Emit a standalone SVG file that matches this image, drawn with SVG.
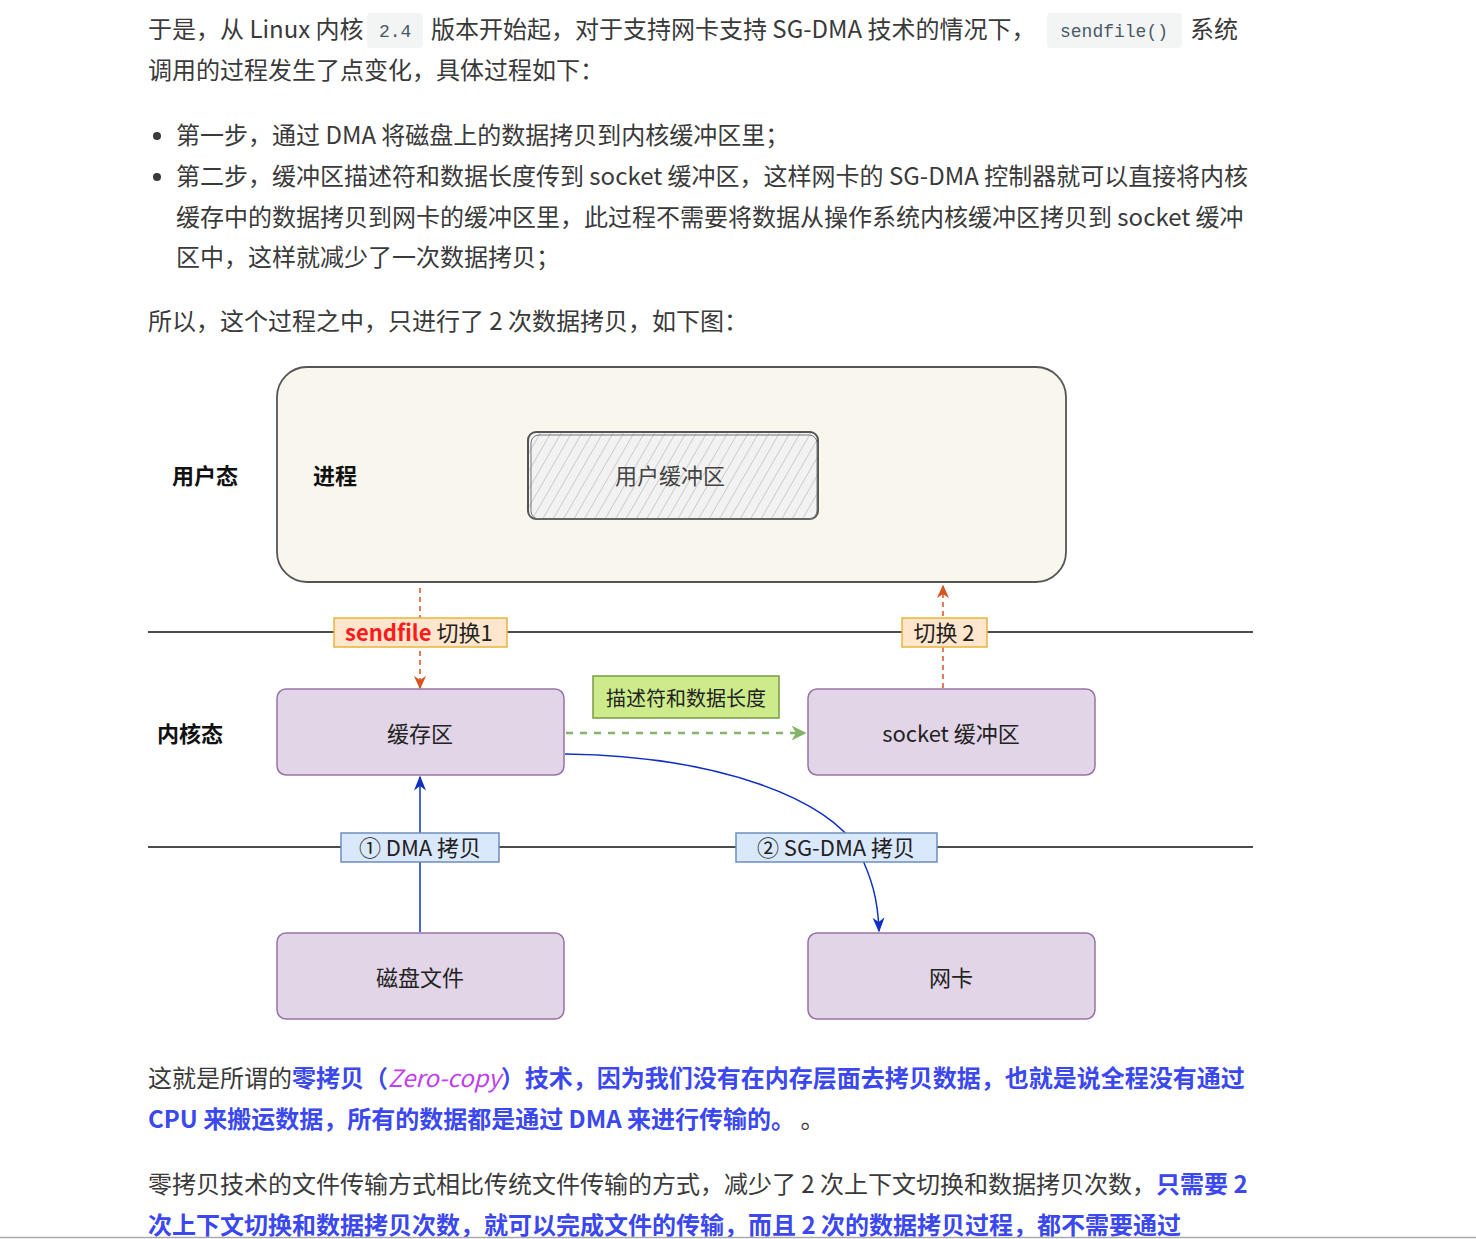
<svg xmlns="http://www.w3.org/2000/svg" width="1476" height="1239" viewBox="0 0 1476 1239">
<style>
.t{font-family:"Noto Sans CJK SC","Noto Sans",sans-serif;font-size:24px;fill:#3a3a3a}
.b{fill:#3b47ef;font-weight:bold}
.code{font-family:"Liberation Mono",monospace;font-size:18px;fill:#4a5866}
.lab{font-family:"Noto Sans CJK SC","Noto Sans",sans-serif;font-size:22px;fill:#222}
.bold{font-weight:bold;fill:#111}
.purple{fill:#e1d5e7;stroke:#9673a6;stroke-width:1.5}
.blue{fill:#dae8fc;stroke:#6c8ebf;stroke-width:1.5}
.orange{fill:#ffe6cc;stroke:#e8b53a;stroke-width:1.5}
.hl{stroke:#111;stroke-width:1.5}
</style>
<defs>
<pattern id="hatch" width="9" height="9" patternUnits="userSpaceOnUse" patternTransform="rotate(30)">
<rect width="9" height="9" fill="#f2f2f2"/>
<line x1="0" y1="0" x2="0" y2="9" stroke="#aaa" stroke-width="1"/>
</pattern>
<marker id="ar" viewBox="0 0 10 10" refX="9" refY="5" markerWidth="9" markerHeight="9" orient="auto"><path d="M0,0.5 L10,5 L0,9.5 L3,5 Z" fill="#d9531e"/></marker>
<marker id="ag" viewBox="0 0 10 10" refX="9" refY="5" markerWidth="6" markerHeight="6" orient="auto"><path d="M0,0 L10,5 L0,10 L3,5 Z" fill="#82b366"/></marker>
<marker id="ab" viewBox="0 0 10 10" refX="9" refY="5" markerWidth="10" markerHeight="10" orient="auto"><path d="M0,1 L10,5 L0,9 L3,5 Z" fill="#0f2fc4"/></marker>
</defs>
<rect width="1476" height="1239" fill="#fff"/>

<!-- top text -->
<g id="intro">
<text class="t" x="148" y="38">于是，从 Linux 内核</text>
<rect x="367" y="13" width="56" height="35" rx="4" fill="#f3f4f4"/>
<text class="code" x="379" y="37">2.4</text>
<text class="t" x="431" y="38">版本开始起，对于支持网卡支持 SG-DMA 技术的情况下，</text>
<rect x="1047" y="13" width="135" height="35" rx="4" fill="#f3f4f4"/>
<text class="code" x="1060" y="37">sendfile()</text>
<text class="t" x="1190" y="38">系统</text>
<text class="t" x="148" y="79">调用的过程发生了点变化，具体过程如下：</text>
<circle cx="157" cy="136" r="4" fill="#3a3a3a"/>
<text class="t" x="176" y="144">第一步，通过 DMA 将磁盘上的数据拷贝到内核缓冲区里；</text>
<circle cx="157" cy="177" r="4" fill="#3a3a3a"/>
<text class="t" x="176" y="185">第二步，缓冲区描述符和数据长度传到 socket 缓冲区，这样网卡的 SG-DMA 控制器就可以直接将内核</text>
<text class="t" x="176" y="226">缓存中的数据拷贝到网卡的缓冲区里，此过程不需要将数据从操作系统内核缓冲区拷贝到 socket 缓冲</text>
<text class="t" x="176" y="266">区中，这样就减少了一次数据拷贝；</text>
<text class="t" x="148" y="330">所以，这个过程之中，只进行了 2 次数据拷贝，如下图：</text>
</g>

<!-- user space -->
<g id="user-space">
<rect x="277" y="367" width="789" height="215" rx="30" fill="#f9f7ed" stroke="#555" stroke-width="1.8"/>
<text class="lab bold" x="172" y="484">用户态</text>
<text class="lab bold" x="313" y="484">进程</text>
</g>
<g id="user-buffer">
<rect x="528" y="432" width="290" height="87" rx="8" fill="url(#hatch)" stroke="#555" stroke-width="2"/>
<rect x="531" y="435" width="286" height="84" rx="8" fill="none" stroke="#777" stroke-width="1"/>
<text class="lab" x="670" y="484" text-anchor="middle" style="fill:#444">用户缓冲区</text>
</g>

<!-- separators -->
<g id="lines">
<line class="hl" x1="148" y1="632" x2="1253" y2="632"/>
<line class="hl" x1="148" y1="847" x2="1253" y2="847"/>
</g>

<!-- connectors -->
<g id="connectors" fill="none">
<line x1="420" y1="588" x2="420" y2="688" stroke="#d9531e" stroke-width="1.5" stroke-dasharray="5,4" marker-end="url(#ar)"/>
<line x1="943" y1="688" x2="943" y2="586" stroke="#d9531e" stroke-width="1.5" stroke-dasharray="5,4" marker-end="url(#ar)"/>
<line x1="566" y1="733" x2="805" y2="733" stroke="#82b366" stroke-width="2.5" stroke-dasharray="7,7" marker-end="url(#ag)"/>
<line x1="420" y1="932" x2="420" y2="777" stroke="#0f2fc4" stroke-width="1.5" marker-end="url(#ab)"/>
<path d="M565 754 C 720 756 830 800 858 850 C 872 878 878 900 879 931" stroke="#0f2fc4" stroke-width="1.5" marker-end="url(#ab)"/>
</g>

<!-- labels on lines -->
<g id="switch1">
<rect class="orange" x="334" y="618" width="173" height="29"/>
<text class="lab" x="345" y="641"><tspan style="fill:#ff1a1a;font-weight:bold">sendfile</tspan> 切换1</text>
</g>
<g id="switch2">
<rect class="orange" x="902" y="618" width="85" height="29"/>
<text class="lab" x="944" y="641" text-anchor="middle">切换 2</text>
</g>
<g id="descriptor">
<rect x="593" y="676" width="186" height="42" fill="#cdeb8b" stroke="#7a9a45" stroke-width="1.5"/>
<text class="lab" x="686" y="706" text-anchor="middle" style="font-size:20px">描述符和数据长度</text>
</g>
<g id="dma-copy">
<rect class="blue" x="341" y="833" width="158" height="29"/>
<text class="lab" x="420" y="856" text-anchor="middle">① DMA 拷贝</text>
</g>
<g id="sgdma-copy">
<rect class="blue" x="736" y="833" width="201" height="29"/>
<text class="lab" x="836" y="856" text-anchor="middle">② SG-DMA 拷贝</text>
</g>

<!-- kernel -->
<g id="kernel-label"><text class="lab bold" x="157" y="742">内核态</text></g>
<g id="page-cache">
<rect class="purple" x="277" y="689" width="287" height="86" rx="9"/>
<text class="lab" x="420" y="742" text-anchor="middle">缓存区</text>
</g>
<g id="socket-buffer">
<rect class="purple" x="808" y="689" width="287" height="86" rx="9"/>
<text class="lab" x="951" y="742" text-anchor="middle">socket 缓冲区</text>
</g>
<g id="disk">
<rect class="purple" x="277" y="933" width="287" height="86" rx="9"/>
<text class="lab" x="420" y="986" text-anchor="middle">磁盘文件</text>
</g>
<g id="nic">
<rect class="purple" x="808" y="933" width="287" height="86" rx="9"/>
<text class="lab" x="951" y="986" text-anchor="middle">网卡</text>
</g>

<!-- bottom text -->
<g id="outro">
<text class="t" x="148" y="1087">这就是所谓的<tspan class="b">零拷贝（</tspan><tspan font-style="italic" style="fill:#c13ef0">Zero-copy</tspan><tspan class="b">）技术，因为我们没有在内存层面去拷贝数据，也就是说全程没有通过</tspan></text>
<text class="t" x="148" y="1128"><tspan class="b">CPU 来搬运数据，所有的数据都是通过 DMA 来进行传输的。</tspan> 。</text>
<text class="t" x="148" y="1193">零拷贝技术的文件传输方式相比传统文件传输的方式，减少了 2 次上下文切换和数据拷贝次数，<tspan class="b">只需要 2</tspan></text>
<text class="t" x="148" y="1234"><tspan class="b">次上下文切换和数据拷贝次数，就可以完成文件的传输，而且 2 次的数据拷贝过程，都不需要通过</tspan></text>
<line x1="0" y1="1237.5" x2="1476" y2="1237.5" stroke="#aaa" stroke-width="1.5"/>
</g>
</svg>
